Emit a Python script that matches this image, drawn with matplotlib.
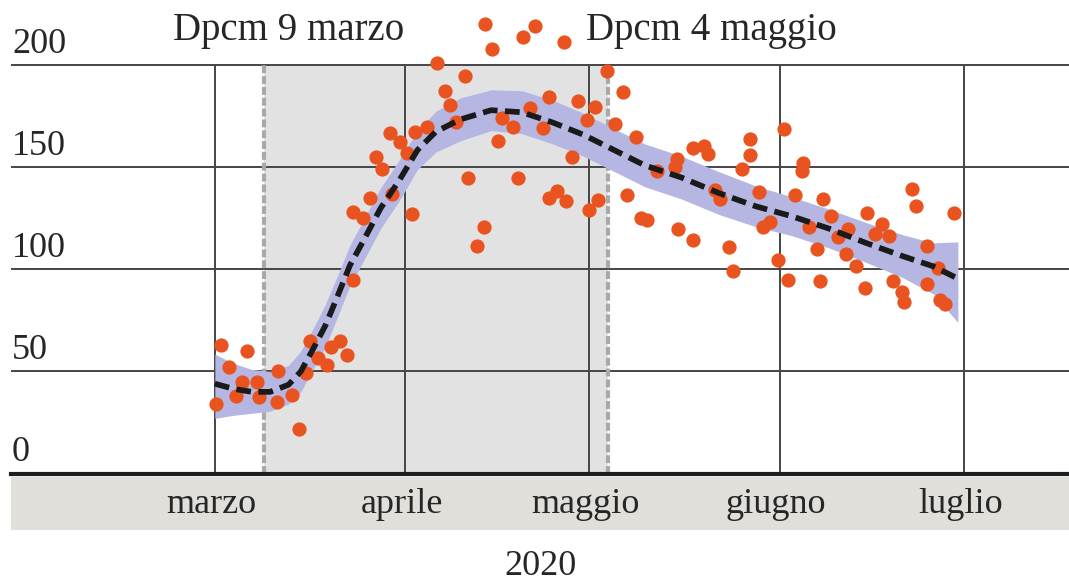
import matplotlib.pyplot as plt
import matplotlib.dates as mdates
from matplotlib.patches import Rectangle
import numpy as np
from datetime import datetime

plt.rcParams['font.family'] = ['Liberation Serif', 'DejaVu Serif']

# giorni dal 1 marzo 2020
start = mdates.date2num(datetime(2020, 3, 1))

point_days = [1.0, 5.2, 2.3, 0.2, 4.4, 6.8, 3.4, 7.2, 10.3, 10.1,
              12.5, 13.7, 14.8, 15.5, 16.8, 18.2, 18.9, 20.4, 21.5, 22.5,
              22.5, 24.1, 25.2, 26.2, 27.2, 28.5, 28.8, 30.1, 31.3, 32.1,
              32.6, 34.5, 36.2, 37.5, 38.3, 39.3, 40.7, 41.2, 42.7, 43.8,
              44.0, 45.1, 46.1, 46.7, 48.5, 49.3, 50.2, 51.3, 52.1, 53.4,
              54.4, 54.4, 55.7, 56.8, 57.2, 58.1, 59.1, 60.6, 60.9, 61.9,
              62.4, 63.8, 65.1, 66.4, 67.1, 68.6, 69.4, 70.4, 72.0, 74.9,
              75.2, 75.4, 77.9, 77.9, 79.6, 80.3, 81.4, 82.2, 83.7, 84.4,
              85.8, 87.1, 87.1, 88.6, 89.3, 90.4, 91.7, 92.7, 93.3, 94.5,
              95.6, 95.8, 96.7, 98.0, 98.5, 99.0, 100.3, 101.5, 102.8, 103.1,
              104.4, 105.9, 106.2, 107.5, 108.6, 109.8, 110.4, 111.9, 112.2, 113.5,
              114.2, 116.0, 116.0, 117.8, 118.1, 118.9, 120.4]
point_values = [63, 60, 52, 34, 45, 45, 38, 37.5, 50, 35,
                38.5, 22, 49, 65, 56.5, 53, 62, 65, 58, 95,
                128, 125, 135, 155, 149, 167, 137, 162.5, 157, 127,
                167.5, 170, 201, 187.5, 180.5, 172, 195, 145, 111.5, 121,
                220, 208, 163, 174, 170, 145, 214, 179, 219.5, 169.5,
                184.5, 135, 138.5, 211.5, 133.5, 155, 182.5, 173, 129, 179.5,
                134, 197, 171, 187, 136.5, 165, 125, 124, 148, 150,
                154, 120, 159.5, 114.5, 160.5, 156.5, 139, 134.5, 111, 99,
                149, 164, 156, 138, 121, 123, 104.5, 169, 95, 136.5,
                148, 152, 121, 110, 94.5, 134.5, 126, 116, 107.5, 120,
                101.5, 91, 127.5, 117.5, 122, 116.5, 94.5, 89, 84, 139.5,
                131, 111.5, 93, 100.5, 85, 83, 127.5]

fit_days = [0, 3, 6, 9, 12, 14, 16, 18, 20, 22, 24, 27, 30, 33, 36, 40,
            45, 50, 55, 60, 65, 70, 76, 82, 88, 94, 100, 106, 112, 117, 121]
fit_values = [44, 41.5, 40, 40, 43.5, 50, 61, 72.5, 87, 102, 113, 130, 143.5,
              158.5, 167.5, 173.5, 178, 177, 172, 166, 158.5, 151, 145, 137.5,
              131, 126, 120, 113, 106.5, 101.5, 95.5]
fit_high = [58.5, 54, 51, 50, 53, 60, 71, 83, 97, 112, 123, 140, 153.5,
            168, 177.5, 184, 188, 187.5, 183, 176.5, 169, 161.5, 155.5, 148,
            141, 135.5, 129.5, 123, 117, 113, 113.5]
fit_low = [27, 28.5, 29.5, 30.5, 34, 40, 51, 62, 77, 92, 103, 120, 133.5,
           149, 157.5, 163, 168, 166.5, 161.5, 155.5, 148, 140.5, 134.5, 127,
           121, 116.5, 110.5, 103.5, 96, 88, 74]

months = ['marzo', 'aprile', 'maggio', 'giugno', 'luglio']
month_starts = [datetime(2020, 3, 1), datetime(2020, 4, 1), datetime(2020, 5, 1),
                datetime(2020, 6, 1), datetime(2020, 7, 1)]
y_ticks = [0, 50, 100, 150, 200]
dpcm_labels = ['Dpcm 9 marzo', 'Dpcm 4 maggio']
dpcm_dates = [datetime(2020, 3, 9), datetime(2020, 5, 4)]

text_col = '#262626'
fs = 26

fig = plt.figure(figsize=(10.69, 5.81), dpi=100)
ax = fig.add_axes([11 / 1069, (581 - 473.5) / 581, 1058 / 1069, 408.2 / 581])
ax.set_xlim(start - 33.2, start + 139.1)
ax.set_ylim(0, 200)
ax.set_axis_off()

month_x = mdates.date2num(month_starts)
dpcm_x = mdates.date2num(dpcm_dates)

# periodo di lockdown
ax.axvspan(dpcm_x[0], dpcm_x[1], color='#e2e2e2', lw=0, zorder=0)

# griglia
ax.hlines(y_ticks[1:], start - 33.2, start + 139.1, colors='#454545', lw=1.4,
          clip_on=False, zorder=1)
ax.vlines(month_x, 0, 200, colors='#454545', lw=1.4, zorder=1)
ax.vlines(dpcm_x, 0, 200, colors='#a9a9a9', lw=3, linestyles=(0, (1.9, 0.7)),
          zorder=1.5)

# fascia sotto l'asse
ax.add_patch(Rectangle((0, -27.7), 1, 26.1, transform=ax.get_yaxis_transform(),
                       color='#e0dfda', lw=0, clip_on=False, zorder=0))
ax.axhline(0, color='#1e1e1e', lw=3, clip_on=False, zorder=5)

fx = start + np.array(fit_days)
ax.fill_between(fx, fit_low, fit_high, color='#b5b7e2', lw=0, zorder=2)
ax.scatter(start + np.array(point_days), point_values, s=105, color='#e9531f',
           lw=0, zorder=3, clip_on=False)
ax.plot(fx, fit_values, color='#1a1a1a', lw=4.1, dashes=(2.6, 1.3),
        dash_capstyle='butt', zorder=4)

for v in y_ticks:
    ax.text(0.001, v + 6, str(v), transform=ax.get_yaxis_transform(),
            ha='left', va='baseline', fontsize=fs, color=text_col)

for mx, lab in zip(month_x, months):
    ax.text(mx - 0.6, -19.4, lab, ha='center', va='baseline', fontsize=fs,
            color=text_col)

ax.text(start + 12.0, 212.5, dpcm_labels[0], ha='center', va='baseline',
        fontsize=28, color=text_col, zorder=2)
ax.text(start + 80.9, 212.5, dpcm_labels[1], ha='center', va='baseline',
        fontsize=28, color=text_col, zorder=2)

ax.text(0.5, -49.5, '2020', transform=ax.get_yaxis_transform(), ha='center',
        va='baseline', fontsize=fs, color=text_col)

fig.savefig('out.png', dpi=100)
